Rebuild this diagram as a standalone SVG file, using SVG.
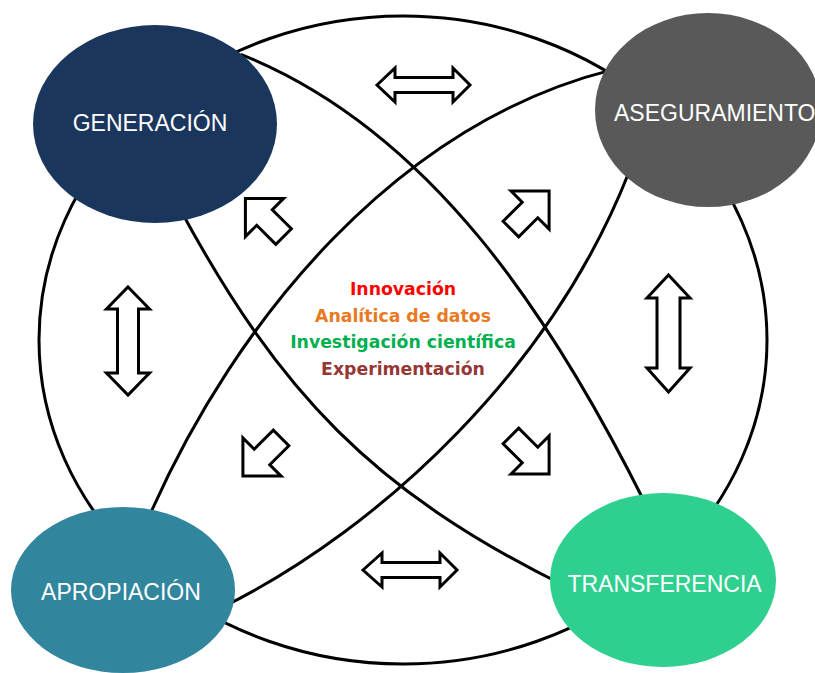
<svg xmlns="http://www.w3.org/2000/svg" width="815" height="673" viewBox="0 0 815 673">
<style>
.ln{fill:none;stroke:#000;stroke-width:3}
.ar{fill:#fff;stroke:#000;stroke-width:3;stroke-linejoin:miter}
.lbl{font-family:"Liberation Sans",Arial,sans-serif;font-size:23px;fill:#fff}
.ct{font-family:"DejaVu Sans",Verdana,sans-serif;font-size:17.3px;font-weight:bold;text-anchor:middle}
</style>
<defs>
<polygon id="blk" points="-27,-11 0,-11 0,-27 27,0 0,27 0,11 -27,11"/>
</defs>
<rect width="815" height="673" fill="#fff"/>
<g id="connectors">
<ellipse class="ln" cx="403" cy="340" rx="364" ry="324"/>
<path class="ln" d="M240.7,54.3 C 431,130 553,319 644.5,502"/>
<path class="ln" d="M180,209 C 280,394 374,491 562,584.5"/>
<path class="ln" d="M148,519 C 236,317 399,123 613,69.6"/>
<path class="ln" d="M629,172 C 552,368 384,526 225,606"/>
</g>
<g id="arrows">
<polygon class="ar" points="377,85 395,68 395,77.5 453,77.5 453,68 470,85 453,102 453,92.5 395,92.5 395,102"/>
<polygon class="ar" points="363,570 382,553 382,562.5 440,562.5 440,553 457,570 440,587 440,577.5 382,577.5 382,587"/>
<polygon class="ar" points="128,287 149.5,309 138.5,309 138.5,373 149.5,373 128,395 106.5,373 117.5,373 117.5,309 106.5,309"/>
<polygon class="ar" points="668.5,275 690,298 680,298 680,368 690,368 668.5,392 647,368 657,368 657,298 647,298"/>
<use href="#blk" class="ar" transform="translate(264.5,217.5) rotate(-135)"/>
<use href="#blk" class="ar" transform="translate(530,210) rotate(-45)"/>
<use href="#blk" class="ar" transform="translate(262,457) rotate(135)"/>
<use href="#blk" class="ar" transform="translate(530,455) rotate(45)"/>
</g>
<g id="generacion">
<ellipse cx="155" cy="124" rx="122" ry="99" fill="#1b365d"/>
<text class="lbl" x="150" y="131" text-anchor="middle">GENERACIÓN</text>
</g>
<g id="aseguramiento">
<ellipse cx="708" cy="110" rx="113" ry="97" fill="#595959"/>
<text class="lbl" x="614" y="121">ASEGURAMIENTO</text>
</g>
<g id="apropiacion">
<ellipse cx="123" cy="590" rx="112" ry="83" fill="#31859c"/>
<text class="lbl" x="121" y="600" text-anchor="middle">APROPIACIÓN</text>
</g>
<g id="transferencia">
<ellipse cx="663" cy="580" rx="113" ry="87" fill="#2ecf8f"/>
<text class="lbl" x="664.5" y="592" text-anchor="middle">TRANSFERENCIA</text>
</g>
<g id="centro">
<text class="ct" x="403" y="295" fill="#ff0000">Innovación</text>
<text class="ct" x="403" y="321.5" fill="#e97a23">Analítica de datos</text>
<text class="ct" x="403" y="348" fill="#00b050">Investigación científica</text>
<text class="ct" x="403" y="375" fill="#953735">Experimentación</text>
</g>
</svg>
